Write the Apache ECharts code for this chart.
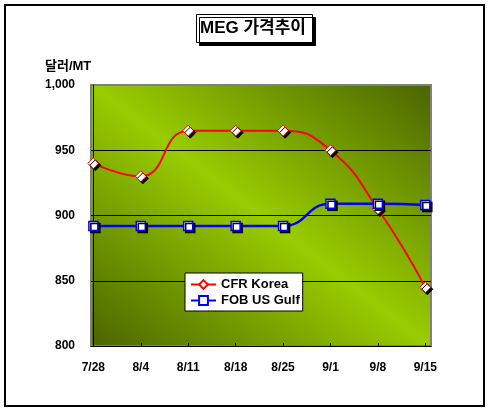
<!DOCTYPE html>
<html>
<head>
<meta charset="utf-8">
<style>
  html, body { margin: 0; padding: 0; background: #fff; }
  #chart { width: 490px; height: 415px; }
</style>
<script src="https://cdn.jsdelivr.net/npm/echarts@6/dist/echarts.min.js"></script>
</head>
<body>
<div id="chart"></div>
<script>
  // 날짜
  var weeks = ['7/28', '8/4', '8/11', '8/18', '8/25', '9/1', '9/8', '9/15'];
  // 가격 (달러/MT)
  var cfrKorea = [940, 930, 965, 965, 965, 950, 905, 845];
  var fobUsGulf = [892, 892, 892, 892, 892, 909, 909, 908];
  var yTicks = [800, 850, 900, 950, 1000];

  var FONT = "'Liberation Sans', 'Noto Sans CJK KR', sans-serif";

  function toPoints(list) {
    return list.map(function (v, i) { return [i, v]; });
  }

  var chart = echarts.init(document.getElementById('chart'));
  chart.setOption({
    animation: false,
    title: {
      text: 'MEG 가격추이',
      left: 196,
      top: 14,
      padding: [6, 7, 6, 4],
      borderColor: '#000',
      borderWidth: 1,
      backgroundColor: '#fff',
      shadowColor: '#000',
      shadowBlur: 0,
      shadowOffsetX: 3,
      shadowOffsetY: 3,
      textStyle: { fontFamily: FONT, fontSize: 17, fontWeight: 'bold', color: '#000' }
    },
    graphic: [
      {
        type: 'rect',
        shape: { x: 5, y: 5, width: 479, height: 401 },
        style: { fill: 'none', stroke: '#000', lineWidth: 2 },
        silent: true
      },
      {
        type: 'text',
        left: 45,
        top: 60,
        style: { text: '달러/MT', font: 'bold 13px ' + FONT, fill: '#000' }
      }
    ],
    legend: {
      orient: 'vertical',
      left: 185,
      top: 273,
      itemGap: 3,
      padding: [5, 3, 4, 5],
      itemWidth: 25,
      itemHeight: 11,
      backgroundColor: '#fff',
      borderColor: '#000',
      borderWidth: 1,
      borderRadius: 0,
      textStyle: { fontFamily: FONT, fontSize: 13, fontWeight: 'bold', color: '#000' },
      itemStyle: { shadowColor: 'rgba(0,0,0,0)' },
      data: ['CFR Korea', 'FOB US Gulf']
    },
    grid: {
      left: 91,
      top: 85,
      right: 59,
      bottom: 69,
      show: true,
      borderColor: '#808080',
      borderWidth: 2,
      backgroundColor: new echarts.graphic.LinearGradient(0.128, 1.128, 0.872, -0.128, [
        { offset: 0, color: '#4a6400' },
        { offset: 0.5, color: '#99cc00' },
        { offset: 1, color: '#4a6400' }
      ])
    },
    xAxis: {
      type: 'value',
      min: -0.05,
      max: 7.12,
      axisLine: { lineStyle: { color: '#000', width: 1 } },
      axisTick: { inside: true, length: 3, customValues: [0, 1, 2, 3, 4, 5, 6, 7], lineStyle: { color: '#000' } },
      axisLabel: {
        customValues: [0, 1, 2, 3, 4, 5, 6, 7],
        margin: 16,
        fontFamily: FONT,
        fontSize: 12,
        fontWeight: 'bold',
        color: '#000',
        formatter: function (v) { return weeks[Math.round(v)] || ''; }
      },
      splitLine: { show: false }
    },
    yAxis: {
      type: 'value',
      min: yTicks[0],
      max: yTicks[yTicks.length - 1],
      interval: 50,
      axisLine: { show: true, lineStyle: { color: '#000', width: 1 } },
      axisTick: { show: false },
      axisLabel: {
        margin: 16,
        fontFamily: FONT,
        fontSize: 12,
        fontWeight: 'bold',
        color: '#000',
        formatter: function (v) { return v.toLocaleString('en-US'); }
      },
      splitLine: { show: true, showMinLine: false, showMaxLine: false, lineStyle: { color: '#000', width: 1 } }
    },
    series: [
      {
        name: 'CFR Korea',
        type: 'line',
        smooth: 0.5,
        data: toPoints(cfrKorea),
        symbol: 'diamond',
        symbolSize: 11,
        lineStyle: { color: '#ff0000', width: 2 },
        itemStyle: {
          color: '#fff',
          borderColor: '#ff0000',
          borderWidth: 1,
          shadowColor: '#000',
          shadowBlur: 0,
          shadowOffsetX: 2,
          shadowOffsetY: 2
        }
      },
      {
        name: 'FOB US Gulf',
        type: 'line',
        smooth: 0.5,
        data: toPoints(fobUsGulf),
        symbol: 'rect',
        symbolSize: 9,
        lineStyle: { color: '#0000ff', width: 2.5 },
        itemStyle: {
          color: '#fff',
          borderColor: '#0000ff',
          borderWidth: 1.5,
          shadowColor: '#000',
          shadowBlur: 0,
          shadowOffsetX: 2,
          shadowOffsetY: 2
        }
      }
    ]
  });
</script>
</body>
</html>
